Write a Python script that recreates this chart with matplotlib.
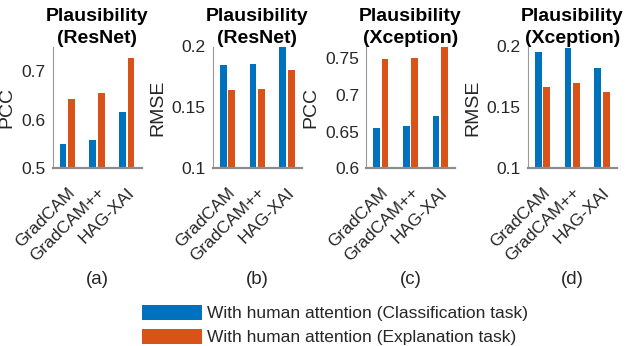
import numpy as np
import matplotlib
matplotlib.use("Agg")
import matplotlib.pyplot as plt
from matplotlib.patches import Patch
from matplotlib.transforms import ScaledTranslation

plt.rcParams['font.family'] = ['Liberation Sans', 'DejaVu Sans']

# data
methods = ['GradCAM', 'GradCAM++', 'HAG-XAI']
series_names = ['With human attention (Classification task)',
                'With human attention (Explanation task)']

resnet_pcc_cls = [0.550, 0.559, 0.616]
resnet_pcc_exp = [0.642, 0.655, 0.727]
resnet_rmse_cls = [0.1848, 0.1856, 0.1997]
resnet_rmse_exp = [0.1639, 0.1647, 0.1810]
xcep_pcc_cls = [0.6554, 0.657, 0.6707]
xcep_pcc_exp = [0.749, 0.751, 0.765]
xcep_rmse_cls = [0.1951, 0.1984, 0.1823]
xcep_rmse_exp = [0.1665, 0.1700, 0.1626]

titles = ['Plausibility\n(ResNet)', 'Plausibility\n(ResNet)',
          'Plausibility\n(Xception)', 'Plausibility\n(Xception)']
ylabels = ['PCC', 'RMSE', 'PCC', 'RMSE']
captions = ['(a)', '(b)', '(c)', '(d)']
ylims = [(0.5, 0.75), (0.1, 0.2), (0.6, 0.766), (0.1, 0.2)]
yticks = [[0.5, 0.6, 0.7], [0.1, 0.15, 0.2], [0.6, 0.65, 0.7, 0.75], [0.1, 0.15, 0.2]]

panels = [(resnet_pcc_cls, resnet_pcc_exp), (resnet_rmse_cls, resnet_rmse_exp),
          (xcep_pcc_cls, xcep_pcc_exp), (xcep_rmse_cls, xcep_rmse_exp)]

blue = '#0072BD'
orange = '#D95319'
txt = '#262626'

W, H = 626, 346
fig = plt.figure(figsize=(W / 100, H / 100), dpi=100)

lefts = [52.5, 212.7, 366, 527.7]
ax_w = 89
ax_top, ax_bot = 46.5, 168.3

x = np.arange(1, len(methods) + 1)
off = 0.143
bw = 0.229

for i, (cls, exp) in enumerate(panels):
    ax = fig.add_axes([lefts[i] / W, 1 - ax_bot / H, ax_w / W, (ax_bot - ax_top) / H])
    ax.bar(x - off, cls, bw, color=blue, bottom=0)
    ax.bar(x + off, exp, bw, color=orange, bottom=0)
    ax.set_xlim(0.5, 3.5)
    ax.set_ylim(*ylims[i])
    ax.set_yticks(yticks[i])
    ax.set_yticklabels(['%g' % v for v in yticks[i]])
    ax.set_xticks(x)
    ax.tick_params(axis='both', length=0, labelsize=12.5, colors=txt)
    ax.tick_params(axis='y', pad=5)
    ax.tick_params(axis='x', pad=15.5)
    ax.set_xticklabels(methods, rotation=45, ha='right', va='center',
                       rotation_mode='anchor')
    # shift rotated labels a bit to the right, like the original
    for lab in ax.get_xticklabels():
        lab.set_transform(lab.get_transform() + ScaledTranslation(5 / 100, 0, fig.dpi_scale_trans))
    ax.spines['top'].set_visible(False)
    ax.spines['right'].set_visible(False)
    ax.spines['left'].set_color('#999999')
    ax.spines['left'].set_linewidth(0.8)
    ax.spines['bottom'].set_color('#8c8c8c')
    ax.spines['bottom'].set_linewidth(1.6)
    ax.set_ylabel(ylabels[i], fontsize=14, color=txt, labelpad=4)
    ax.set_title(titles[i], fontsize=14, fontweight='bold', pad=1, linespacing=1.35)
    fig.text((lefts[i] + ax_w / 2) / W, 1 - 280 / H, captions[i], fontsize=13.5,
             color=txt, ha='center', va='center')

handles = [Patch(facecolor=blue), Patch(facecolor=orange)]
fig.legend(handles, series_names, loc='upper left',
           bbox_to_anchor=(141.7 / W, 1 - 305 / H), frameon=False,
           fontsize=12.5, borderpad=0, borderaxespad=0,
           handlelength=3.5, handleheight=0.92, handletextpad=0.27,
           labelspacing=0.45, labelcolor=txt)

fig.savefig('out.png', dpi=100)
